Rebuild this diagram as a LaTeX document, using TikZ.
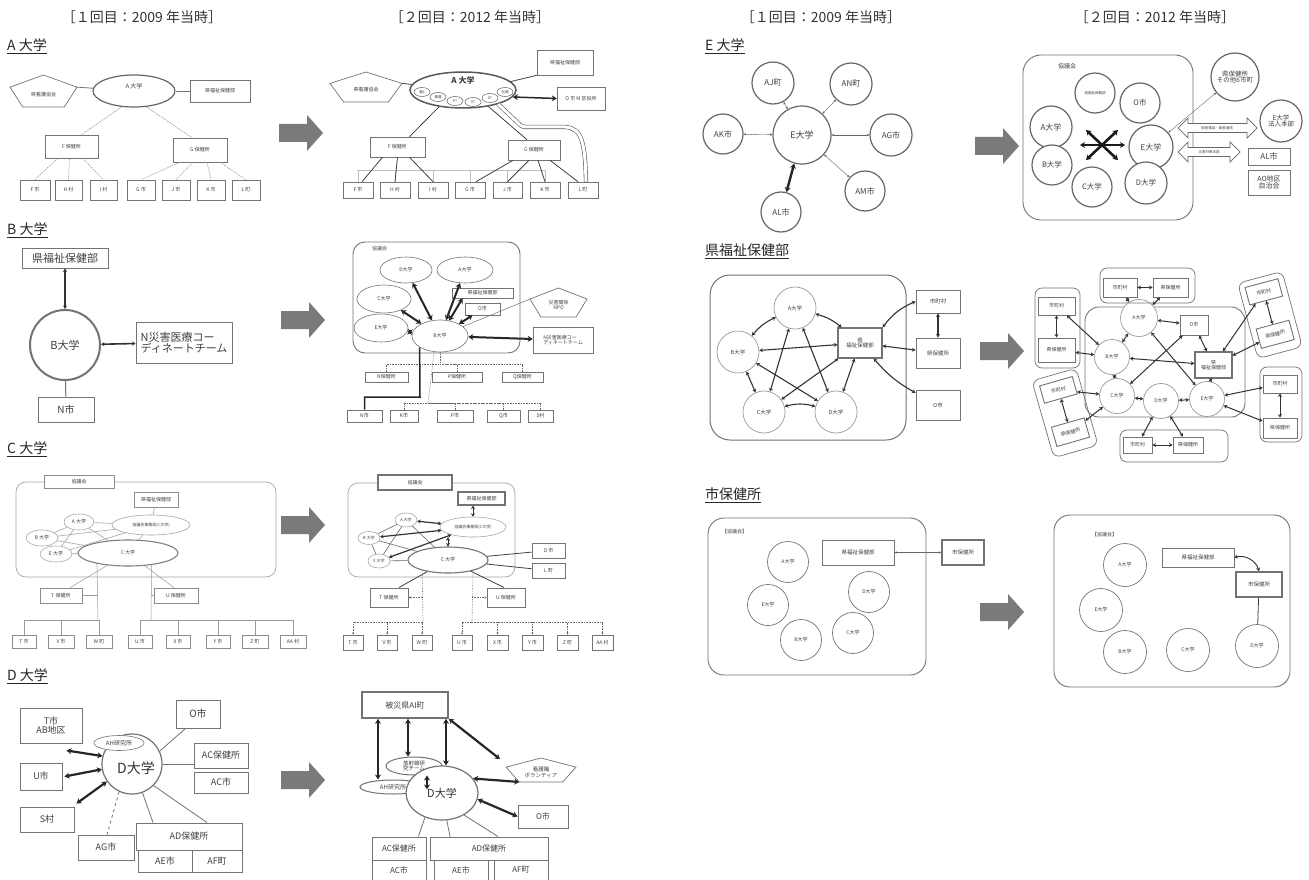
\documentclass[tikz,border=0pt]{standalone}
\usepackage{fontspec}
\setmainfont{Noto Sans CJK JP}
\usetikzlibrary{shapes.geometric,arrows.meta,calc}
\newcommand\fsz[1]{\fontsize{#1}{#1}\selectfont}
\newcommand\mybox[7][]{\node[bxs,#1,minimum width={#5-#3},minimum height={#6-#4}] (#2) at ({(#3+#5)/2},{(#4+#6)/2}) {#7};}
\newcommand\myell[7][]{\node[els,#1,minimum width={2*(#5)},minimum height={2*(#6)}] (#2) at (#3,#4) {#7};}
\newcommand\pent[7][]{%
 \coordinate (#2-t) at ({(#3+#5)/2},#4);
 \coordinate (#2-r) at (#5,{#4+0.38*(#6-#4)});
 \coordinate (#2-br) at ({(#3+#5)/2+0.31*(#5-#3)},#6);
 \coordinate (#2-bl) at ({(#3+#5)/2-0.31*(#5-#3)},#6);
 \coordinate (#2-l) at (#3,{#4+0.38*(#6-#4)});
 \draw[pens] (#2-t) -- (#2-r) -- (#2-br) -- (#2-bl) -- (#2-l) -- cycle;
 \node[txt,#1] (#2) at ({(#3+#5)/2},{#4+0.6*(#6-#4)}) {#7};}
\newcommand\bigarr[2]{\fill[black!52] (#1,{#2-9}) -- ++(28,0) -- ++(0,-9) -- ++(16,18) -- ++(-16,18) -- ++(0,-9) -- ++(-28,0) -- cycle;}
\newcommand\hollow[3]{\draw[black!60,line width=0.7pt,fill=white] (#1,#3) -- ++(10,-10) -- ++(0,5.5) -- ({#2-10},{#3-4.5}) -- ++(0,-5.5) -- (#2,#3) -- ++(-10,10) -- ++(0,-5.5) -- ({#1+10},{#3+4.5}) -- ++(0,5.5) -- cycle;}
\begin{document}
\begin{tikzpicture}[x=1pt,y=-1pt,
 bxs/.style={draw=black!55,line width=0.6pt,fill=white,inner sep=0pt,align=center,text=black!75,font=\fsz{5}},
 els/.style={ellipse,draw=black!55,line width=0.6pt,fill=white,inner sep=0pt,align=center,text=black!75,font=\fsz{5}},
 txt/.style={inner sep=0pt,align=center,text=black!75,font=\fsz{5}},
 pens/.style={draw=black!55,line width=0.7pt,fill=white},
 ln/.style={draw=black!55,line width=0.5pt},
 lnd/.style={draw=black!75,line width=0.8pt},
 faint/.style={draw=black!25,line width=0.5pt},
 dl/.style={draw=black!45,line width=0.5pt,dash pattern=on 1.5pt off 1pt},
 dt/.style={draw=black!60,line width=0.6pt,densely dotted},
 dta/.style={dt,arrows={-Stealth[length=2pt,width=2pt]}},
 tarr/.style={draw=black!85,line width=2pt,arrows={Stealth[length=5pt,width=6pt]-Stealth[length=5pt,width=6pt]}},
 marr/.style={draw=black!80,line width=1pt,arrows={Stealth[length=3.5pt,width=4pt]-Stealth[length=3.5pt,width=4pt]}},
 sarr/.style={draw=black!60,line width=0.4pt,arrows={Stealth[length=2.5pt,width=2.5pt]-Stealth[length=2.5pt,width=2.5pt]}},
 cont/.style={draw=black!55,line width=0.7pt,rounded corners=12pt},
 hd/.style={font=\fsz{14},text=black!80,inner sep=0pt},
 sec/.style={font=\fsz{14},text=black!85,anchor=west,inner sep=0pt},
]
\useasboundingbox (0,0) rectangle (1309,880);
\fill[white] (0,0) rectangle (1309,880);
% headers
\node[hd] (h1) at (142,17) {［１回目：2009 年当時］};
\node[hd] (h2) at (470,17) {［２回目：2012 年当時］};
\node[hd] (h3) at (821,17) {［１回目：2009 年当時］};
\node[hd] (h4) at (1155,17) {［２回目：2012 年当時］};
\node[sec] (sA) at (7,46) {\underline{A 大学}};
\node[sec] (sB) at (7,230) {\underline{B 大学}};
\node[sec] (sC) at (7,449) {\underline{C 大学}};
\node[sec] (sD) at (7,676) {\underline{D 大学}};
\node[sec] (sE) at (705,46) {\underline{E 大学}};
\node[sec] (sK) at (705,251) {\underline{県福祉保健部}};
\node[sec] (sS) at (705,495) {\underline{市保健所}};
\bigarr{279}{133}
\bigarr{281}{320}
\bigarr{281}{525}
\bigarr{281}{780}
\bigarr{975}{146}
\bigarr{980}{351}
\bigarr{980}{612}
% ================= A before
\pent{Apen}{10}{75}{77}{107}{県看護協会}
\myell[line width=1.2pt,draw=black!60]{Aell}{134}{91}{41}{16}{}
\node[txt,font=\fsz{6}] (Alab) at (134,86) {A 大学};
\mybox{Akf}{190}{80}{250}{102}{県福祉保健部}
\mybox{AF}{45}{135}{98}{158}{F 保健所}
\mybox{AG}{173}{138}{227}{162}{G 保健所}
\mybox{Ab1}{20}{180}{50}{200}{F 市}
\mybox{Ab2}{55}{180}{82}{200}{H 村}
\mybox{Ab3}{90}{180}{117}{200}{I 村}
\mybox{Ab4}{127}{180}{155}{200}{G 市}
\mybox{Ab5}{162}{180}{190}{200}{J 市}
\mybox{Ab6}{197}{180}{225}{200}{K 市}
\mybox{Ab7}{232}{180}{260}{200}{L 町}
\draw[ln,line width=0.8pt] (Apen-r) -- (Aell);
\draw[ln,line width=0.8pt] (Aell) -- (Akf);
\draw[dl] (Aell.232) -- ([xshift=10pt]AF.north);
\draw[dl] (Aell.-52) -- ([xshift=-8pt]AG.north);
\draw[dl] ([xshift=-14pt]AF.south) -- (Ab1.north);
\draw[dl] ([xshift=-2pt]AF.south) -- (Ab2.north);
\draw[dl] ([xshift=11pt]AF.south) -- (Ab3.north);
\draw[dl] ([xshift=-20pt]AG.south) -- (Ab4.north);
\draw[dl] ([xshift=-7pt]AG.south) -- (Ab5.north);
\draw[dl] ([xshift=7pt]AG.south) -- (Ab6.north);
\draw[dl] ([xshift=20pt]AG.south) -- (Ab7.north);
% ================= A after
\coordinate (A2hl) at (357,170);
\coordinate (A2hr) at (545,170);
\draw[faint] (A2hl) -- (A2hr);
\pent{A2pen}{330}{72}{402}{102}{県看護協会}
\myell[line width=1.5pt,draw=black!65]{A2ell}{463}{90}{53}{18}{}
\node[txt,font=\fsz{8}\bfseries] (A2lab) at (463,80) {A 大学};
\myell[font=\fsz{3.5}]{A2s1}{422}{92}{8}{4.5}{看1}
\myell[font=\fsz{3.5}]{A2s2}{438}{97}{8}{4.5}{看護}
\myell[font=\fsz{3.5}]{A2s3}{455}{101}{8}{4.5}{PT}
\myell[font=\fsz{3.5}]{A2s4}{473}{102}{8}{4.5}{OT}
\myell[font=\fsz{3.5}]{A2s5}{490}{98}{8}{4.5}{ST}
\myell[font=\fsz{3.5}]{A2s6}{505}{92}{8}{4.5}{社福}
\mybox{A2kf}{537}{50}{593}{75}{県福祉保健部}
\mybox{A2om}{557}{87}{605}{110}{O 市 M 区役所}
\mybox{A2F}{370}{137}{425}{157}{F 保健所}
\mybox{A2G}{508}{140}{560}{160}{G 保健所}
\mybox{A2b1}{343}{182}{373}{198}{F 市}
\mybox{A2b2}{380}{182}{410}{198}{H 村}
\mybox{A2b3}{418}{182}{448}{198}{I 村}
\mybox{A2b4}{455}{182}{485}{198}{G 市}
\mybox{A2b5}{493}{182}{522}{198}{J 市}
\mybox{A2b6}{530}{182}{560}{198}{K 市}
\mybox{A2b7}{568}{182}{598}{198}{L 町}
\foreach \n in {A2b1,A2b2,A2b3,A2b4,A2b5,A2b6}{\draw[faint] (\n.north) -- (\n.north |- A2hl);}
\draw[lnd] (A2pen-r) -- (A2ell);
\draw[lnd] (A2ell.10) -- (A2kf.south west);
\draw[tarr,line width=1.5pt] (A2ell.-8) -- (A2om.west);
\draw[lnd] (A2ell.-145) -- ([xshift=12pt]A2F.north);
\draw[lnd] (A2ell.-33) -- ([xshift=-7pt]A2G.north);
\draw[lnd] ([xshift=-15pt]A2F.south) -- ([xshift=4pt]A2b1.north);
\draw[lnd] (A2F.south) -- (A2b2.north);
\draw[lnd] ([xshift=12pt]A2F.south) -- (A2b3.north);
\draw[lnd] ([xshift=-21pt]A2G.south) -- ([xshift=6pt]A2b4.north);
\draw[lnd] ([xshift=-5pt]A2G.south) -- (A2b5.north);
\draw[lnd] ([xshift=4pt]A2G.south) -- (A2b6.north);
\draw[lnd] ([xshift=16pt]A2G.south) -- ([xshift=-5pt]A2b7.north);
\coordinate (A2p1) at (517,122);
\coordinate (A2p2) at (530,127);
\coordinate (A2p3) at (565,127);
\draw[draw=black!65,line width=0.6pt,double=white,double distance=3pt] (A2ell.-22) -- (A2p1) .. controls (522,127) .. (A2p2) -- (A2p3) .. controls (582,128) and (585,142) .. ([xshift=3pt]A2b7.north);
% ================= B before
\mybox[font=\fsz{11},line width=0.9pt]{Bkf}{22}{248}{108}{268}{県福祉保健部}
\node[circle,draw=black!55,line width=2pt,fill=white,minimum size=70pt,inner sep=0pt,font=\fsz{11},text=black!75] (BB) at (65,345) {B大学};
\mybox[font=\fsz{10},line width=0.9pt]{BN}{38}{397}{94}{422}{N市}
\mybox[font=\fsz{11},align=left,line width=0.9pt]{BND}{136}{322}{232}{363}{N災害医療コー\\ディネートチーム}
\draw[marr,line width=1.6pt] (Bkf) -- (BB);
\draw[marr,line width=1.6pt] (BB) -- (BND);
\draw[ln,line width=1pt] (BB) -- (BN);
% ================= B after
\draw[cont,line width=0.9pt] (353,242) rectangle (520,353);
\node[txt,anchor=west] (B2lab) at (372,249) {協議会};
\myell{B2D}{406}{270}{26}{13}{D大学}
\myell{B2A}{465}{270}{28}{13}{A大学}
\myell{B2C}{384}{299}{27}{14}{C大学}
\mybox{B2kf}{452}{288}{513}{298}{県福祉保健部}
\mybox{B2O}{465}{303}{500}{315}{O市}
\myell{B2E}{381}{328}{27}{14}{E大学}
\myell{B2B}{440}{336}{28}{16}{B大学}
\pent{B2npo}{530}{288}{587}{317}{災害関係\\NPO}
\mybox[align=left]{B2ND}{533}{327}{593}{353}{N災害医療コー\\ディネートチーム}
\draw[tarr] (B2B) -- (B2C);
\draw[tarr] (B2B) -- (B2D);
\draw[tarr] (B2B) -- (B2A);
\draw[tarr] (B2B) -- ([xshift=-20pt]B2kf.south);
\draw[tarr] (B2B) -- ([xshift=-10pt]B2O.south);
\draw[tarr] (B2B) -- (B2E);
\draw[tarr] (B2B) -- (B2ND);
\draw[ln] (B2B) -- (B2npo-l);
\mybox{B2NH}{365}{372}{408}{382}{N保健所}
\mybox{B2PH}{432}{372}{482}{382}{P保健所}
\mybox{B2QH}{502}{372}{543}{382}{Q保健所}
\mybox{B2n}{347}{410}{382}{422}{N市}
\mybox{B2k}{390}{410}{418}{422}{K市}
\mybox{B2p}{437}{410}{473}{422}{P市}
\mybox{B2q}{487}{410}{520}{422}{Q市}
\mybox{B2s}{528}{410}{553}{422}{S村}
\coordinate (B2t1) at (440,364);
\coordinate (B2t2) at (428,403);
\coordinate (B2bend) at (420,397);
\draw[dt] (B2B.south) -- (B2t1);
\draw[dt] (B2NH.north) |- (B2t1);
\draw[dt] (B2PH.north) |- (B2t1);
\draw[dt] (B2QH.north) |- (B2t1);
\draw[dt] (B2B.250) -- (B2t2);
\draw[dt] (B2k.north) |- (B2t2);
\draw[dt] (B2p.north) |- (B2t2);
\draw[dt] (B2q.north) |- (B2t2);
\draw[dt] (B2s.north) |- (B2t2);
\draw[draw=black!85,line width=1.5pt] (B2B.209) -- (B2bend) -| (B2n.north);
% ================= C before
\draw[cont,draw=black!35,rounded corners=10pt] (16,482) rectangle (276,577);
\mybox[draw=black!45]{Ckg}{44}{475}{114}{488}{協議会}
\mybox[draw=black!45]{Ckf}{134}{492}{178}{507}{県福祉保健部}
\myell[font=\fsz{4},draw=black!35]{Cjm}{151}{525}{39}{10}{協議会事務局(C大学)}
\myell[draw=black!35]{CA}{79}{522}{15}{8}{A 大学}
\myell[draw=black!35]{CB}{42}{538}{16}{8}{B 大学}
\myell[draw=black!35]{CE}{56}{554}{16}{8}{E 大学}
\myell[line width=1.1pt,draw=black!50]{CC}{128}{553}{50}{13}{C 大学}
\mybox[draw=black!45]{CTH}{40}{588}{82}{603}{T 保健所}
\mybox[draw=black!45]{CUH}{154}{588}{198}{603}{U 保健所}
\mybox[draw=black!45]{Cb1}{12}{635}{36}{648}{T 市}
\mybox[draw=black!45]{Cb2}{48}{635}{74}{648}{V 市}
\mybox[draw=black!45]{Cb3}{86}{635}{112}{648}{W 町}
\mybox[draw=black!45]{Cb4}{128}{635}{152}{648}{U 市}
\mybox[draw=black!45]{Cb5}{166}{635}{190}{648}{X 市}
\mybox[draw=black!45]{Cb6}{206}{635}{230}{648}{Y 市}
\mybox[draw=black!45]{Cb7}{242}{635}{268}{648}{Z 町}
\mybox[draw=black!45]{Cb8}{280}{635}{306}{648}{AA 村}
\foreach \a/\b in {CA/Cjm,CA/CB,CA/CE,CA/CC,CB/CE,CB/Cjm,CB/CC,CE/Cjm,CE/CC,Ckf/Cjm,Cjm/CC}{\draw[draw=black!35,line width=0.6pt] (\a) -- (\b);}
\coordinate (Ct1) at (98,620);
\coordinate (Ct2) at (151,620);
\draw[ln,draw=black!40] (CC.199) -- (Ct1);
\draw[ln,draw=black!40] (CC.-27) -- (Ct2);
\foreach \n in {Cb1,Cb2,Cb3}{\draw[ln,draw=black!40] (\n.north) |- (Ct1);}
\foreach \n in {Cb4,Cb5,Cb6,Cb7,Cb8}{\draw[ln,draw=black!40] (\n.north) |- (Ct2);}
\draw[ln,draw=black!40] (CTH.east) -- (CTH.east -| Ct1);
\draw[ln,draw=black!40] (CUH.west) -- (CUH.west -| Ct2);
\draw[ln,draw=black!40] (CC) -- ([xshift=9pt]CTH.north);
\draw[ln,draw=black!40] (CC) -- ([xshift=-2pt]CUH.north);
% ================= C after
\draw[cont,draw=black!35,rounded corners=10pt] (348,483) rectangle (515,577);
\mybox[line width=1.1pt]{C2kg}{378}{475}{452}{490}{協議会}
\mybox[line width=1.1pt]{C2kf}{458}{492}{505}{505}{県福祉保健部}
\myell[font=\fsz{4},draw=black!35]{C2jm}{473}{527}{33}{10}{協議会事務局(C大学)}
\myell[font=\fsz{4},draw=black!35]{C2A}{406}{520}{11}{7}{A 大学}
\myell[font=\fsz{4},draw=black!35]{C2B}{369}{538}{11}{6.5}{B 大学}
\myell[font=\fsz{4},draw=black!35]{C2E}{379}{561}{11}{7}{E 大学}
\myell[line width=1.1pt]{C2C}{448}{560}{40}{13}{C 大学}
\mybox[line width=1pt]{C2O}{532}{543}{565}{558}{O 市}
\mybox[line width=1pt]{C2L}{532}{563}{565}{578}{L 町}
\mybox[line width=1pt]{C2TH}{370}{588}{408}{607}{T 保健所}
\mybox[line width=1pt]{C2UH}{487}{588}{525}{607}{U 保健所}
\mybox[line width=0.9pt]{C2b1}{343}{635}{363}{650}{T 市}
\mybox[line width=0.9pt]{C2b2}{377}{635}{397}{650}{V 市}
\mybox[line width=0.9pt]{C2b3}{412}{635}{432}{650}{W 町}
\mybox[line width=0.9pt]{C2b4}{452}{635}{472}{650}{U 市}
\mybox[line width=0.9pt]{C2b5}{487}{635}{508}{650}{X 市}
\mybox[line width=0.9pt]{C2b6}{522}{635}{543}{650}{Y 市}
\mybox[line width=0.9pt]{C2b7}{557}{635}{578}{650}{Z 町}
\mybox[line width=0.9pt]{C2b8}{592}{635}{613}{650}{AA 村}
\foreach \a/\b in {C2A/C2B,C2B/C2E,C2A/C2E,C2A/C2C,C2B/C2C,C2E/C2C}{\draw[draw=black!60,line width=0.6pt] (\a) -- (\b);}
\draw[marr,line width=1.2pt] (C2A) -- (C2jm);
\draw[marr,line width=1.2pt] (C2B) -- (C2jm);
\draw[marr,line width=1.2pt] (C2E) -- (C2jm);
\draw[marr,line width=0.8pt] (C2jm |- C2kf.south) -- (C2jm.north);
\draw[marr,line width=0.8pt] (C2jm.south -| C2C.north) -- (C2C.north);
\draw[lnd] (C2C) -- (C2O);
\draw[lnd] (C2C) -- (C2L);
\draw[lnd] (C2C) -- ([xshift=10pt]C2TH.north);
\draw[lnd] (C2C) -- ([xshift=-2pt]C2UH.north);
\coordinate (C2t1) at (423,622);
\coordinate (C2t2) at (472,622);
\draw[dt] (C2C.202) -- (C2t1);
\draw[dt] (C2C.-23) -- (C2t2);
\foreach \n in {C2b1,C2b2,C2b3}{\draw[dta] (C2t1) -| (\n.north);}
\foreach \n in {C2b4,C2b5,C2b6,C2b7,C2b8}{\draw[dta] (C2t2) -| (\n.north);}
\draw[dta] (C2TH.east -| C2t1) -- (C2TH.east);
\draw[dta] (C2UH.west -| C2t2) -- (C2UH.west);
% ================= D before
\mybox[font=\fsz{9},line width=0.9pt]{DT}{20}{708}{82}{743}{T市\\AB地区}
\node[circle,draw=black!55,line width=1.2pt,fill=white,minimum size=60pt,inner sep=0pt] (DD) at (132,764) {};
\node[txt,font=\fsz{14},text=black!80] (DDl) at (136,768) {D大学};
\myell[font=\fsz{6}]{DAH}{119}{743}{25}{7.5}{AH研究所}
\mybox[font=\fsz{10},line width=0.9pt]{DO}{176}{700}{220}{728}{O市}
\mybox[font=\fsz{9},line width=0.9pt]{DACH}{194}{743}{248}{768}{AC保健所}
\mybox[font=\fsz{9},line width=0.9pt]{DAC}{194}{772}{248}{793}{AC市}
\mybox[font=\fsz{9},line width=0.9pt]{DU}{20}{763}{62}{790}{U市}
\mybox[font=\fsz{9},line width=0.9pt]{DS}{20}{807}{74}{832}{S村}
\mybox[font=\fsz{9},line width=0.9pt]{DAG}{78}{835}{134}{860}{AG市}
\mybox[font=\fsz{9},line width=0.9pt]{DAD}{136}{823}{242}{850}{AD保健所}
\mybox[font=\fsz{9},line width=0.9pt]{DAE}{138}{850}{192}{872}{AE市}
\mybox[font=\fsz{9},line width=0.9pt]{DAF}{192}{850}{242}{872}{AF町}
\draw[tarr,line width=2.2pt] ([xshift=-16pt,yshift=-7pt]DT.south east) -- (DD.165);
\draw[tarr,line width=2.2pt] ([xshift=2pt]DU.east) -- (DD.190);
\draw[tarr,line width=2.2pt] ([xshift=2pt,yshift=3pt]DS.north east) -- (DD.215);
\draw[ln,line width=0.8pt,dashed] (DD.245) -- ([xshift=1pt]DAG.north);
\draw[ln,line width=0.8pt] (DD.25) -- ([xshift=10pt]DO.south west);
\draw[ln,line width=0.8pt] (DD.east) -- (DD.east -| DACH.west);
\draw[ln,line width=0.8pt] (DD.-70) -- ([xshift=-36pt]DAD.north);
\draw[ln,line width=0.8pt] (DD.-45) -- ([xshift=18pt]DAD.north);
% ================= D after
\mybox[font=\fsz{8},line width=1.6pt]{D2AI}{362}{692}{448}{718}{被災県AI町}
\myell[font=\fsz{5.5},line width=1pt]{D2RAD}{414}{766}{28}{9}{放射線研\\究チーム}
\myell[font=\fsz{6},line width=1pt]{D2AH}{393}{787}{33}{7}{AH研究所}
\myell[font=\fsz{11},line width=1.2pt,text=black!80]{D2D}{442}{793}{36}{27}{\raisebox{-4pt}{D大学}}
\pent[font=\fsz{5.5}]{D2P}{506}{758}{576}{782}{看護職\\ボランティア}
\mybox[font=\fsz{8},line width=0.9pt]{D2O}{518}{805}{568}{828}{O市}
\mybox[font=\fsz{8},line width=0.9pt]{D2ACH}{372}{837}{426}{860}{AC保健所}
\mybox[font=\fsz{8},line width=0.9pt]{D2AD}{430}{837}{548}{860}{AD保健所}
\mybox[font=\fsz{8},line width=0.9pt]{D2AC}{372}{860}{426}{880}{AC市}
\mybox[font=\fsz{8},line width=0.9pt]{D2AE}{434}{860}{488}{880}{AE市}
\mybox[font=\fsz{8},line width=0.9pt]{D2AF}{494}{860}{548}{880}{AF町}
\draw[tarr,line width=2.2pt] ([xshift=-27pt]D2AI.south) -- ([xshift=-15pt]D2AH.north);
\draw[tarr,line width=2.2pt] ([xshift=3pt]D2AI.south) -- ([xshift=-6pt]D2RAD.north);
\draw[tarr,line width=2.2pt] ([xshift=41pt]D2AI.south) -- ([xshift=4pt]D2D.north);
\draw[tarr,line width=2.2pt] (D2AI.south east) -- ([xshift=-6pt,yshift=8pt]D2P-l);
\draw[tarr,line width=1.8pt] ([xshift=13pt]D2RAD.south) -- ([xshift=-15pt,yshift=-24pt]D2D.north);
\draw[tarr,line width=2.2pt] (D2D.25) -- (D2P-bl);
\draw[tarr,line width=2.2pt] (D2D.-10) -- (D2O.west);
\draw[ln,line width=0.8pt] (D2D.-125) -- ([xshift=-8pt]D2ACH.north east);
\draw[ln,line width=0.8pt] (D2D.-80) -- ([xshift=-39pt]D2AD.north);
\draw[ln,line width=0.8pt] (D2D.-45) -- ([xshift=9pt]D2AD.north);
% ================= E before
\tikzset{ec/.style={circle,draw=black!60,line width=1.2pt,fill=white,inner sep=0pt,text=black!75,font=\fsz{8}}}
\node[ec,minimum size=42pt] (EAJ) at (773,83) {AJ町};
\node[ec,minimum size=42pt] (EAN) at (851,84) {AN町};
\node[ec,minimum size=40pt] (EAK) at (723,134) {AK市};
\node[ec,minimum size=58pt,font=\fsz{9}] (EE) at (802,135) {E大学};
\node[ec,minimum size=42pt] (EAG) at (891,135) {AG市};
\node[ec,minimum size=40pt] (EAM) at (865,191) {AM市};
\node[ec,minimum size=40pt] (EAL) at (781,212) {AL市};
\foreach \n in {EAJ,EAN,EAK,EAG,EAM}{\draw[sarr] (EE) -- (\n);}
\draw[tarr,line width=2.4pt] (EE) -- (EAL);
% ================= E after
\draw[cont,rounded corners=18pt,line width=0.9pt] (1023,55) rectangle (1193,220);
\node[txt,font=\fsz{6}] (E2lab) at (1067,66) {協議会};
\node[ec,minimum size=40pt,font=\fsz{3.5}] (E2kf) at (1095,93) {県福祉保健部};
\node[ec,minimum size=40pt,font=\fsz{7.5}] (E2O) at (1140,103) {O市};
\node[ec,minimum size=42pt,font=\fsz{8}] (E2A) at (1051,127) {A大学};
\node[ec,minimum size=44pt,font=\fsz{8}] (E2E) at (1151,147) {E大学};
\node[ec,minimum size=40pt,font=\fsz{7.5}] (E2B) at (1052,165) {B大学};
\node[ec,minimum size=40pt,font=\fsz{7.5}] (E2C) at (1092,187) {C大学};
\node[ec,minimum size=42pt,font=\fsz{7.5}] (E2D) at (1146,183) {D大学};
\node[ec,minimum size=48pt,font=\fsz{6.5},align=center] (E2bh) at (1235,77) {県保健所\\その他6市町};
\node[ec,minimum size=42pt,font=\fsz{6.5},align=center] (E2HQ) at (1281,121) {E大学\\法人本部};
\coordinate (E2s1) at (1080,145);
\coordinate (E2s2) at (1125,145);
\coordinate (E2s3) at (1086,130);
\coordinate (E2s4) at (1118,160);
\coordinate (E2s5) at (1086,160);
\coordinate (E2s6) at (1118,130);
\draw[tarr,line width=2.6pt,draw=black!90] (E2s1) -- (E2s2);
\draw[tarr,line width=2.6pt,draw=black!90] (E2s3) -- (E2s4);
\draw[tarr,line width=2.6pt,draw=black!90] (E2s5) -- (E2s6);
\draw[sarr] (E2E) -- (E2bh);
\hollow{1178}{1257}{128}
\node[txt,font=\fsz{3.5}] (E2sat) at (1217,128) {衛星電話・衛星通信};
\hollow{1178}{1240}{152}
\node[txt,font=\fsz{3.5}] (E2hq2) at (1209,152) {災害対策本部};
\mybox[font=\fsz{8},line width=0.9pt]{E2AL}{1248}{148}{1290}{165}{AL市}
\mybox[font=\fsz{7},line width=0.9pt]{E2AO}{1248}{170}{1290}{195}{AO地区\\自治会}
% ================= Ken before
\draw[cont,rounded corners=20pt,line width=1pt] (710,275) rectangle (906,440);
\tikzset{kc/.style={circle,draw=black!40,line width=0.7pt,fill=white,inner sep=0pt,text=black!75,font=\fsz{5.5},minimum size=42pt}}
\node[kc] (K1A) at (795,308) {A大学};
\node[kc] (K1B) at (738,352) {B大学};
\node[kc] (K1C) at (764,412) {C大学};
\node[kc] (K1D) at (836,412) {D大学};
\mybox[line width=1.2pt,font=\fsz{5.5}]{K1kf}{838}{328}{882}{358}{県\\福祉保健部}
\mybox[line width=0.9pt,font=\fsz{5.5}]{K1m}{916}{290}{960}{313}{市町村}
\mybox[line width=0.9pt,font=\fsz{5.5}]{K1h}{916}{338}{960}{368}{県保健所}
\mybox[line width=0.9pt,font=\fsz{5.5}]{K1o}{916}{390}{960}{420}{O市}
\tikzset{karr/.style={marr,line width=1.1pt}}
\draw[karr] (K1A) to[bend right=12] (K1B);
\draw[karr] (K1A) to[bend left=12] (K1kf);
\draw[karr] (K1B) -- (K1kf);
\draw[karr] (K1B) -- (K1C);
\draw[karr] (K1C) to[bend left=15] (K1D);
\draw[karr] (K1D) -- (K1kf);
\draw[karr] (K1A) -- (K1C);
\draw[karr] (K1A) -- (K1D);
\draw[karr] (K1B) -- (K1D);
\draw[karr] (K1C) -- (K1kf);
\draw[karr] (K1kf.north east) to[bend left=15] (K1m.west);
\draw[karr] (K1kf) -- (K1h);
\draw[karr] (K1kf) to[bend right=10] (K1o);
\draw[karr] (K1m) -- (K1h);
% ================= Ken after
\draw[cont,rounded corners=14pt,line width=0.9pt] (1085,307) rectangle (1245,417);
\tikzset{kc2/.style={circle,draw=black!40,line width=0.7pt,fill=white,inner sep=0pt,text=black!75,font=\fsz{5},minimum size=35pt}}
\node[kc2,minimum size=37pt] (K2A) at (1139,318) {A大学};
\node[kc2] (K2B) at (1112,357) {B大学};
\node[kc2] (K2C) at (1117,396) {C大学};
\node[kc2] (K2D) at (1161,401) {D大学};
\node[kc2] (K2E) at (1207,399) {E大学};
\mybox[line width=0.9pt]{K2O}{1180}{315}{1208}{335}{O市}
\mybox[line width=1.2pt]{K2kf}{1195}{352}{1232}{378}{県\\福祉保健部}
\draw[cont,rounded corners=7pt] (1100,268) rectangle (1195,303);
\mybox[line width=0.9pt]{K2tm}{1103}{278}{1137}{297}{市町村}
\mybox[line width=0.9pt]{K2th}{1153}{278}{1188}{297}{県保健所}
\draw[cont,rounded corners=7pt] (1035,288) rectangle (1080,368);
\mybox[line width=0.9pt]{K2lm}{1038}{297}{1075}{315}{市町村}
\mybox[line width=0.9pt]{K2lh}{1038}{338}{1075}{362}{県保健所}
\draw[cont,rounded corners=7pt] (1260,367) rectangle (1302,442);
\mybox[line width=0.9pt]{K2rm}{1263}{375}{1297}{393}{市町村}
\mybox[line width=0.9pt]{K2rh}{1263}{418}{1297}{438}{県保健所}
\draw[cont,rounded corners=7pt] (1120,430) rectangle (1228,462);
\mybox[line width=0.9pt]{K2bm}{1123}{437}{1152}{453}{市町村}
\mybox[line width=0.9pt]{K2bh}{1173}{437}{1203}{453}{県保健所}
\begin{scope}[shift={(1270,315)},rotate=15]
 \draw[cont,rounded corners=7pt] (-23,-39) rectangle (23,39);
 \node[bxs,line width=0.9pt,transform shape,minimum width=34,minimum height=18] (K2qm) at (0,-24) {市町村};
 \node[bxs,line width=0.9pt,transform shape,minimum width=34,minimum height=20] (K2qh) at (0,20) {県保健所};
\end{scope}
\begin{scope}[shift={(1065,413)},rotate=16]
 \draw[cont,rounded corners=7pt] (-23,-40) rectangle (23,40);
 \node[bxs,line width=0.9pt,transform shape,minimum width=34,minimum height=18] (K2pm) at (0,-24) {市町村};
 \node[bxs,line width=0.9pt,transform shape,minimum width=34,minimum height=20] (K2ph) at (0,20) {県保健所};
\end{scope}
\foreach \a/\b in {K2tm/K2th,K2lm/K2lh,K2rm/K2rh,K2bm/K2bh,K2qm/K2qh,K2pm/K2ph,K2tm/K2A,K2th/K2A,K2A/K2O,K2A/K2B,K2lm/K2B,K2lh/K2B,K2B/K2kf,K2A/K2E,K2C/K2O,K2O/K2kf,K2qm/K2kf,K2qh/K2kf,K2B/K2C,K2kf/K2E,K2pm/K2C,K2ph/K2C,K2C/K2D,K2D/K2E,K2D/K2bm,K2D/K2bh,K2E/K2rm,K2E/K2rh}{\draw[marr] (\a) -- (\b);}
% ================= Shi before
\draw[cont,rounded corners=16pt,line width=0.9pt] (708,518) rectangle (926,675);
\node[txt,anchor=west] (S1lab) at (722,532) {【協議会】};
\mybox[font=\fsz{5.5}]{S1kf}{822}{540}{894}{565}{県福祉保健部}
\mybox[line width=1.6pt,font=\fsz{5.5}]{S1sh}{942}{540}{984}{565}{市保健所}
\draw[sarr,line width=0.6pt] (S1kf) -- (S1sh);
\tikzset{sc/.style={circle,draw=black!55,line width=0.7pt,fill=white,inner sep=0pt,text=black!75,font=\fsz{5},minimum size=41pt}}
\node[sc] (S1A) at (788,562) {A大学};
\node[sc] (S1D) at (869,592) {D大学};
\node[sc] (S1E) at (768,605) {E大学};
\node[sc] (S1B) at (801,640) {B大学};
\node[sc] (S1C) at (853,633) {C大学};
% ================= Shi after
\draw[cont,rounded corners=16pt,line width=0.9pt] (1054,515) rectangle (1290,687);
\node[txt,anchor=west] (S2lab) at (1092,535) {【協議会】};
\mybox[font=\fsz{5.5}]{S2kf}{1162}{548}{1234}{567}{県福祉保健部}
\mybox[line width=1.6pt,font=\fsz{5.5}]{S2sh}{1236}{572}{1282}{597}{市保健所}
\draw[marr,line width=0.9pt] (S2kf.east) to[bend left=45] (S2sh.north);
\node[sc,minimum size=43pt] (S2A) at (1125,565) {A大学};
\node[sc,minimum size=43pt] (S2E) at (1101,610) {E大学};
\node[sc,minimum size=43pt] (S2B) at (1125,652) {B大学};
\node[sc,minimum size=43pt] (S2C) at (1188,650) {C大学};
\node[sc,minimum size=43pt] (S2D) at (1257,646) {D大学};
\draw[lnd] (S2sh) -- (S2D);
\end{tikzpicture}
\end{document}
